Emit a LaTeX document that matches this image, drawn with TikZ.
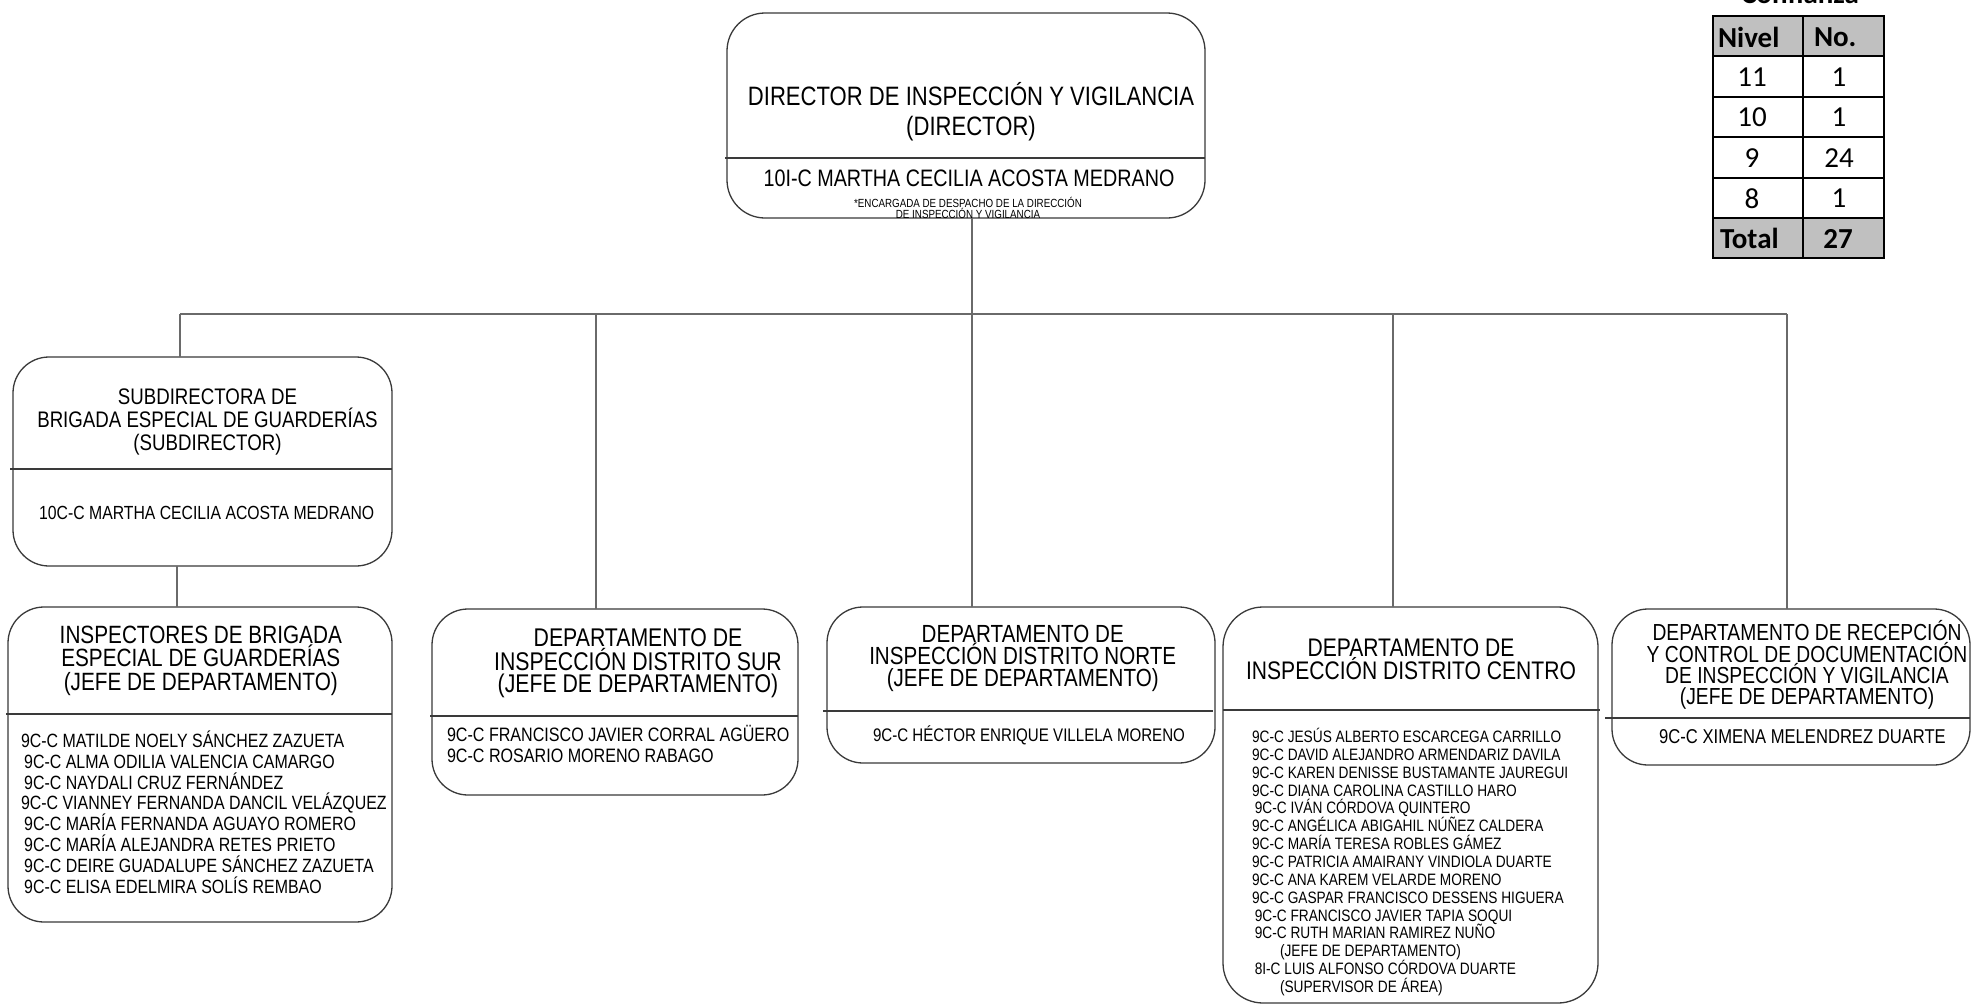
\documentclass[tikz,border=0pt]{standalone}
\usepackage{fontspec}
\setmainfont{Liberation Sans}
\newfontfamily\af[FakeStretch=0.83]{Liberation Sans}
\newfontfamily\cf{Carlito}
\usetikzlibrary{calc}
\definecolor{boxc}{HTML}{3A3A3A}
\definecolor{connc}{HTML}{6A6A6A}
\definecolor{tgray}{HTML}{C0C0C0}
\tikzset{
 box/.style={draw=boxc, line width=1.3pt, rounded corners=36pt, inner sep=0pt, outer sep=0pt, rectangle},
 div/.style={draw=boxc, line width=1.2pt},
 conn/.style={draw=connc, line width=1.6pt},
 txt/.style={inner sep=0pt, outer sep=0pt, align=center, text=black},
 ltxt/.style={inner sep=0pt, outer sep=0pt, align=left, anchor=west, text=black},
 tline/.style={draw=black, line width=2.6pt},
 tcell/.style={inner sep=0pt, outer sep=0pt, text=black, font=\cf\fontsize{29}{30}\selectfont},
 tbold/.style={tcell, font=\cf\bfseries\fontsize{29}{30}\selectfont},
}
\begin{document}
\begin{tikzpicture}[x=1pt,y=-1pt]
\useasboundingbox (0,0) rectangle (1973,1004);
\clip (0,0) rectangle (1973,1004);
\fill[white] (0,0) rectangle (1973,1004);

% ---------- Director ----------
\node[box, rounded corners=38pt, minimum width=478pt, minimum height=205pt] (dir) at (966,115.5) {};
\draw[div] ([xshift=-2pt]dir.west |- 0,158) -- (dir.east |- 0,158);
\node[txt, font=\af\fontsize{26.6}{30}\selectfont] (dirt) at (971,112) {DIRECTOR DE INSPECCIÓN Y VIGILANCIA\\(DIRECTOR)};
\node[txt, font=\af\fontsize{23.8}{26}\selectfont] (dirn) at (969,178) {10I-C MARTHA CECILIA ACOSTA MEDRANO};
\node[txt, font=\af\fontsize{11.8}{11}\selectfont] (dirs) at (968,207.5) {*ENCARGADA DE DESPACHO DE LA DIRECCIÓN\\DE INSPECCIÓN Y VIGILANCIA};

% ---------- Subdirector ----------
\node[box, minimum width=379pt, minimum height=209pt] (sub) at (202.5,461.5) {};
\draw[div] ([xshift=-3pt]sub.west |- 0,469) -- (sub.east |- 0,469);
\node[txt, font=\af\fontsize{22.5}{23}\selectfont] (subt) at (207.5,422) {SUBDIRECTORA DE\\BRIGADA ESPECIAL DE GUARDERÍAS\\(SUBDIRECTOR)};
\node[txt, font=\af\fontsize{19}{21}\selectfont] (subn) at (206.7,513) {10C-C MARTHA CECILIA ACOSTA MEDRANO};

% ---------- Inspectores ----------
\node[box, minimum width=384pt, minimum height=315pt] (insp) at (200,764.5) {};
\draw[div] ([xshift=-2pt]insp.west |- 0,714) -- (insp.east |- 0,714);
\node[txt, font=\af\fontsize{25}{23.5}\selectfont] (inspt) at (200.8,660.5) {INSPECTORES DE BRIGADA\\ESPECIAL DE GUARDERÍAS\\(JEFE DE DEPARTAMENTO)};
\node[ltxt, font=\af\fontsize{19.2}{20.8}\selectfont] (inspn) at (21,812) {9C-C MATILDE NOELY SÁNCHEZ ZAZUETA\\
\,9C-C ALMA ODILIA VALENCIA CAMARGO\\
\,9C-C NAYDALI CRUZ FERNÁNDEZ\\
9C-C VIANNEY FERNANDA DANCIL VELÁZQUEZ\\
\,9C-C MARÍA FERNANDA AGUAYO ROMERO\\
\,9C-C MARÍA ALEJANDRA RETES PRIETO\\
\,9C-C DEIRE GUADALUPE SÁNCHEZ ZAZUETA\\
\,9C-C ELISA EDELMIRA SOLÍS REMBAO};

% ---------- Sur ----------
\node[box, minimum width=366pt, minimum height=186pt] (sur) at (615,702) {};
\draw[div] ([xshift=-2pt]sur.west |- 0,716) -- (sur.east |- 0,716);
\node[txt, font=\af\fontsize{25.6}{22.3}\selectfont] (surt) at (638,663.5) {DEPARTAMENTO DE\\INSPECCIÓN DISTRITO SUR\\(JEFE DE DEPARTAMENTO)};
\node[ltxt, font=\af\fontsize{19.4}{21}\selectfont] (surn) at (447,743.5) {9C-C FRANCISCO JAVIER CORRAL AGÜERO\\9C-C ROSARIO MORENO RABAGO};

% ---------- Norte ----------
\node[box, minimum width=388pt, minimum height=156pt] (norte) at (1021,685) {};
\draw[div] ([xshift=-4pt]norte.west |- 0,711) -- ([xshift=-2pt]norte.east |- 0,711);
\node[txt, font=\af\fontsize{24.8}{22}\selectfont] (nortet) at (1022.7,658) {DEPARTAMENTO DE\\INSPECCIÓN DISTRITO NORTE\\(JEFE DE DEPARTAMENTO)};
\node[txt, font=\af\fontsize{18.2}{20}\selectfont] (norten) at (1029,735) {9C-C HÉCTOR ENRIQUE VILLELA MORENO};

% ---------- Centro ----------
\node[box, rounded corners=40pt, minimum width=375pt, minimum height=396pt] (centro) at (1410.5,805) {};
\draw[div] (centro.west |- 0,710) -- ([xshift=2pt]centro.east |- 0,710);
\node[txt, font=\af\fontsize{25.4}{22}\selectfont] (centrot) at (1411,659) {DEPARTAMENTO DE\\INSPECCIÓN DISTRITO CENTRO};
\node[ltxt, font=\af\fontsize{16.5}{17.86}\selectfont] (centron) at (1252,862) {9C-C JESÚS ALBERTO ESCARCEGA CARRILLO\\
9C-C DAVID ALEJANDRO ARMENDARIZ DAVILA\\
9C-C KAREN DENISSE BUSTAMANTE JAUREGUI\\
9C-C DIANA CAROLINA CASTILLO HARO\\
\,9C-C IVÁN CÓRDOVA QUINTERO\\
9C-C ANGÉLICA ABIGAHIL NÚÑEZ CALDERA\\
9C-C MARÍA TERESA ROBLES GÁMEZ\\
9C-C PATRICIA AMAIRANY VINDIOLA DUARTE\\
9C-C ANA KAREM VELARDE MORENO\\
9C-C GASPAR FRANCISCO DESSENS HIGUERA\\
\,9C-C FRANCISCO JAVIER TAPIA SOQUI\\
\,9C-C RUTH MARIAN RAMIREZ NUÑO\\
\hspace*{28pt}(JEFE DE DEPARTAMENTO)\\
\,8I-C LUIS ALFONSO CÓRDOVA DUARTE\\
\hspace*{28pt}(SUPERVISOR DE ÁREA)};

% ---------- Recepcion ----------
\node[box, minimum width=358pt, minimum height=156pt] (recep) at (1791,687) {};
\draw[div] ([xshift=-7pt]recep.west |- 0,718) -- (recep.east |- 0,718);
\node[txt, font=\af\fontsize{23.2}{21.3}\selectfont] (recept) at (1807,665) {DEPARTAMENTO DE RECEPCIÓN\\Y CONTROL DE DOCUMENTACIÓN\\DE INSPECCIÓN Y VIGILANCIA\\(JEFE DE DEPARTAMENTO)};
\node[txt, font=\af\fontsize{20}{21}\selectfont] (recepn) at (1802.5,737) {9C-C XIMENA MELENDREZ DUARTE};

% ---------- Connectors ----------
\coordinate (b1) at (180,314);
\coordinate (b2) at (596,314);
\coordinate (b3) at (972,314);
\coordinate (b4) at (1393,314);
\coordinate (b5) at (1787,314);
\coordinate (s1) at (177,0);
\draw[conn] (b1) -- (b5);
\draw[conn] (dir.south -| b3) -- (b3);
\draw[conn] (b1) -- (sub.north -| b1);
\draw[conn] (b2) -- (sur.north -| b2);
\draw[conn] (b3) -- (norte.north -| b3);
\draw[conn] (b4) -- (centro.north -| b4);
\draw[conn] (b5) -- (recep.north -| b5);
\draw[conn] (sub.south -| s1) -- (insp.north -| s1);

% ---------- Table ----------
\fill[tgray] (1713,16) rectangle (1884,56);
\fill[tgray] (1713,218) rectangle (1884,258);
\draw[tline] (1713,16) rectangle (1884,258);
\foreach \yy in {56,97,137,178,218} \draw[tline] (1713,\yy) -- (1884,\yy);
\draw[tline] (1803,16) -- (1803,258);
\node[tbold, font=\cf\bfseries\fontsize{29}{30}\selectfont, anchor=base] (conf) at (1800,3) {Confianza};
\node[tbold, anchor=west] (h1) at (1718,37) {Nivel};
\node[tbold, anchor=west] (h2) at (1814,37) {No.};
\node[tcell] (r1a) at (1752,77) {11};
\node[tcell] (r1b) at (1839,77) {1};
\node[tcell] (r2a) at (1752,117.5) {10};
\node[tcell] (r2b) at (1839,117.5) {1};
\node[tcell] (r3a) at (1752,158) {9};
\node[tcell] (r3b) at (1839,158) {24};
\node[tcell] (r4a) at (1752,198.5) {8};
\node[tcell] (r4b) at (1839,198.5) {1};
\node[tbold, anchor=west] (t1) at (1720,238.5) {Total};
\node[tbold] (t2) at (1838,238.5) {27};
\end{tikzpicture}
\end{document}
